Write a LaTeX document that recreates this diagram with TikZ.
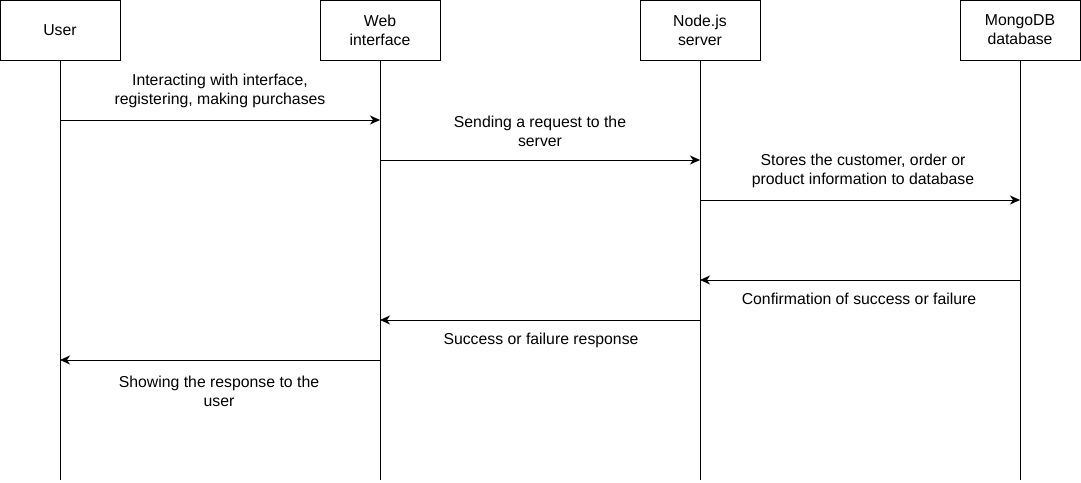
\documentclass[tikz,border=0pt]{standalone}
\usepackage{fontspec}
\setmainfont{Liberation Sans}
\usetikzlibrary{arrows.meta}
\begin{document}
\begin{tikzpicture}[x=1pt,y=-1pt,
  actor/.style={draw=black,line width=1pt,minimum width=120pt,minimum height=60pt,inner sep=0pt,align=center,font=\fontsize{15.8}{18.8}\selectfont},
  life/.style={draw=black,line width=1pt},
  msg/.style={draw=black,line width=1pt,-{Stealth[length=10pt,width=9pt,inset=3pt]}},
  lbl/.style={align=center,inner sep=0pt,font=\fontsize{15.8}{18.8}\selectfont}]
\useasboundingbox (0,0) rectangle (1081,482);
\node[actor] (user) at (60,30) {User};
\node[actor] (web) at (380,30) {Web\\interface};
\node[actor] (node) at (700,30) {Node.js\\server};
\node[actor] (mongo) at (1020,30) {MongoDB\\database};
\coordinate (userend) at (60,480);
\coordinate (webend) at (380,480);
\coordinate (nodeend) at (700,480);
\coordinate (mongoend) at (1020,480);
\draw[life] (user.south) -- (userend);
\draw[life] (web.south) -- (webend);
\draw[life] (node.south) -- (nodeend);
\draw[life] (mongo.south) -- (mongoend);
% messages
\coordinate (u1) at (60,120); \coordinate (w1) at (380,120);
\coordinate (w2) at (380,160); \coordinate (n2) at (700,160);
\coordinate (n3) at (700,200); \coordinate (m3) at (1020,200);
\coordinate (m4) at (1020,280); \coordinate (n4) at (700,280);
\coordinate (n5) at (700,320); \coordinate (w5) at (380,320);
\coordinate (w6) at (380,360); \coordinate (u6) at (60,360);
\draw[msg] (u1) -- (w1);
\draw[msg] (w2) -- (n2);
\draw[msg] (n3) -- (m3);
\draw[msg] (m4) -- (n4);
\draw[msg] (n5) -- (w5);
\draw[msg] (w6) -- (u6);
\node[lbl] (l1) at (220,91) {Interacting with interface,\\registering, making purchases};
\node[lbl] (l2) at (540,131) {Sending a request to the\\server};
\node[lbl] (l3) at (863,171) {Stores the customer, order or\\product information to database};
\node[lbl] (l4) at (859,299) {Confirmation of success or failure};
\node[lbl] (l5) at (541,340) {Success or failure response};
\node[lbl] (l6) at (219,391) {Showing the response to the\\user};
\end{tikzpicture}
\end{document}
